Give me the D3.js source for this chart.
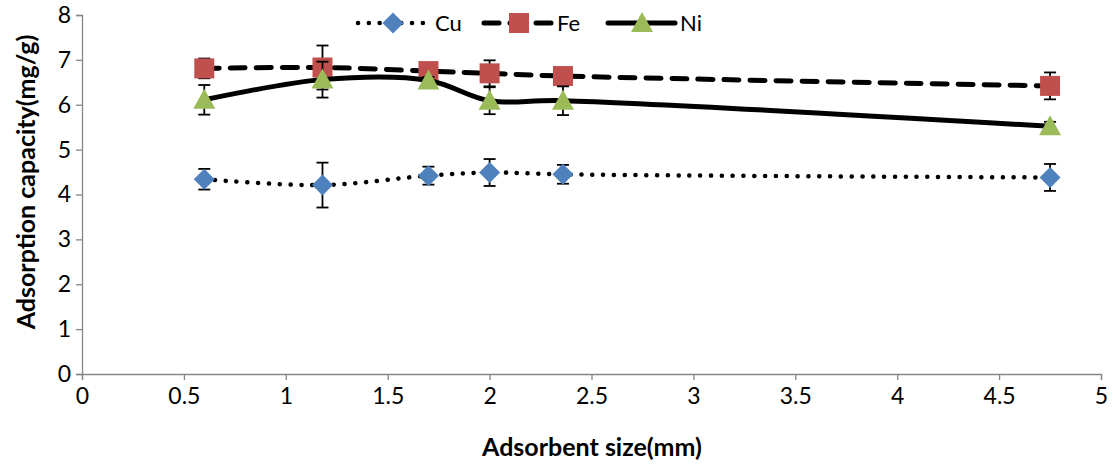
<!DOCTYPE html>
<html>
<head>
<meta charset="utf-8">
<script src="https://cdn.jsdelivr.net/npm/d3@7"></script>
<style>
  html, body { margin: 0; padding: 0; background: #fff; }
  svg { display: block; font-family: Lato, "Open Sans", sans-serif; }
</style>
</head>
<body>
<svg id="chart" width="1115" height="468"></svg>
<script>
// Adsorbent size (mm) for each measured point
const sizes = [0.6, 1.18, 1.7, 2.0, 2.36, 4.75];

// Adsorption capacity (mg/g) per metal, with standard-deviation error bars
const cuValues = [4.34, 4.21, 4.42, 4.49, 4.45, 4.38];
const cuErrors = [0.23, 0.50, 0.20, 0.30, 0.21, 0.30];
const feValues = [6.81, 6.83, 6.75, 6.70, 6.64, 6.42];
const feErrors = [0.22, 0.49, 0.08, 0.29, 0.08, 0.30];
const niValues = [6.11, 6.56, 6.54, 6.09, 6.09, 5.52];
const niErrors = [0.33, 0.40, 0.08, 0.30, 0.32, 0.10];

const xTicks = [0, 0.5, 1, 1.5, 2, 2.5, 3, 3.5, 4, 4.5, 5];
const yTicks = [0, 1, 2, 3, 4, 5, 6, 7, 8];

const svg = d3.select("#chart");
const plot = { left: 82, right: 1101, top: 15, bottom: 374 };

const x = d3.scaleLinear().domain([0, 5]).range([plot.left, plot.right]);
const y = d3.scaleLinear().domain([0, 8]).range([plot.bottom, plot.top]);

const axisColor = "#868686";

// Y axis
const yAxis = svg.append("g")
  .attr("transform", `translate(${plot.left},0)`)
  .call(d3.axisLeft(y).tickValues(yTicks).tickSize(6).tickPadding(5).tickFormat(d3.format("d")));
// X axis
const xAxis = svg.append("g")
  .attr("transform", `translate(0,${plot.bottom})`)
  .call(d3.axisBottom(x).tickValues(xTicks).tickSize(6).tickPadding(8).tickFormat(d => String(d)));

[yAxis, xAxis].forEach(g => {
  g.select(".domain").attr("stroke", axisColor).attr("stroke-width", 1.3);
  g.selectAll(".tick line").attr("stroke", axisColor).attr("stroke-width", 1.3);
  g.selectAll(".tick text").attr("fill", "#000").style("font-size", "23px")
    .style("font-family", "Lato, 'Open Sans', sans-serif");
});

// Axis titles
svg.append("text")
  .attr("x", 592)
  .attr("y", 456)
  .attr("text-anchor", "middle")
  .style("font-size", "25px").style("font-weight", "bold")
  .text("Adsorbent size(mm)");

svg.append("text")
  .attr("transform", "translate(35,182) rotate(-90)")
  .attr("text-anchor", "middle")
  .style("font-size", "25px").style("font-weight", "bold")
  .text("Adsorption capacity(mg/g)");

const series = [
  { name: "Cu", values: cuValues, errors: cuErrors, color: "#4F81BD", shape: "diamond",
    dash: "0.1 10.7", width: 4.5 },
  { name: "Fe", values: feValues, errors: feErrors, color: "#C0504D", shape: "square",
    dash: "15 11", width: 5 },
  { name: "Ni", values: niValues, errors: niErrors, color: "#9BBB59", shape: "triangle",
    dash: null, width: 5 }
];

function markerPath(shape) {
  if (shape === "diamond") return "M0,-10.5L10.5,0L0,10.5L-10.5,0Z";
  if (shape === "square") return "M-10,-10H10V10H-10Z";
  return "M0,-11L11,9L-11,9Z";
}

const line = d3.line()
  .x(d => x(d.x))
  .y(d => y(d.y))
  .curve(d3.curveCatmullRom.alpha(0.5));

series.forEach(s => {
  const pts = sizes.map((v, i) => ({ x: v, y: s.values[i], e: s.errors[i] }));
  const g = svg.append("g").attr("class", "series-" + s.name);

  // connecting line
  g.append("path")
    .datum(pts)
    .attr("d", line)
    .attr("fill", "none")
    .attr("stroke", "#000")
    .attr("stroke-width", s.width)
    .attr("stroke-linecap", "round")
    .attr("stroke-dasharray", s.dash);

  // error bars
  const eb = g.selectAll(".err").data(pts).enter().append("g").attr("class", "err")
    .attr("stroke", "#000").attr("stroke-width", 1.8);
  eb.append("line")
    .attr("x1", d => x(d.x)).attr("x2", d => x(d.x))
    .attr("y1", d => y(d.y + d.e)).attr("y2", d => y(d.y - d.e));
  eb.append("line")
    .attr("x1", d => x(d.x) - 6).attr("x2", d => x(d.x) + 6)
    .attr("y1", d => y(d.y + d.e)).attr("y2", d => y(d.y + d.e));
  eb.append("line")
    .attr("x1", d => x(d.x) - 6).attr("x2", d => x(d.x) + 6)
    .attr("y1", d => y(d.y - d.e)).attr("y2", d => y(d.y - d.e));

  // markers
  g.selectAll(".mk").data(pts).enter().append("path").attr("class", "mk")
    .attr("d", markerPath(s.shape))
    .attr("transform", d => `translate(${x(d.x)},${y(d.y)})`)
    .attr("fill", s.color);
});

// Legend
const legendItems = [
  { s: series[0], x0: 358, x1: 424, mx: 393, tx: 435 },
  { s: series[1], x0: 484, x1: 553, mx: 519, tx: 557 },
  { s: series[2], x0: 608, x1: 675, mx: 642, tx: 680 }
];
const ly = 23;
const legend = svg.append("g").attr("class", "legend");
legendItems.forEach(it => {
  legend.append("line")
    .attr("x1", it.x0).attr("x2", it.x1).attr("y1", ly).attr("y2", ly)
    .attr("stroke", "#000").attr("stroke-width", it.s.width)
    .attr("stroke-linecap", "round")
    .attr("stroke-dasharray", it.s.dash);
  legend.append("path")
    .attr("d", markerPath(it.s.shape))
    .attr("transform", `translate(${it.mx},${ly})`)
    .attr("fill", it.s.color);
  legend.append("text")
    .attr("x", it.tx).attr("y", ly)
    .attr("dy", "0.36em")
    .style("font-size", "22px")
    .text(it.s.name);
});
</script>
</body>
</html>
